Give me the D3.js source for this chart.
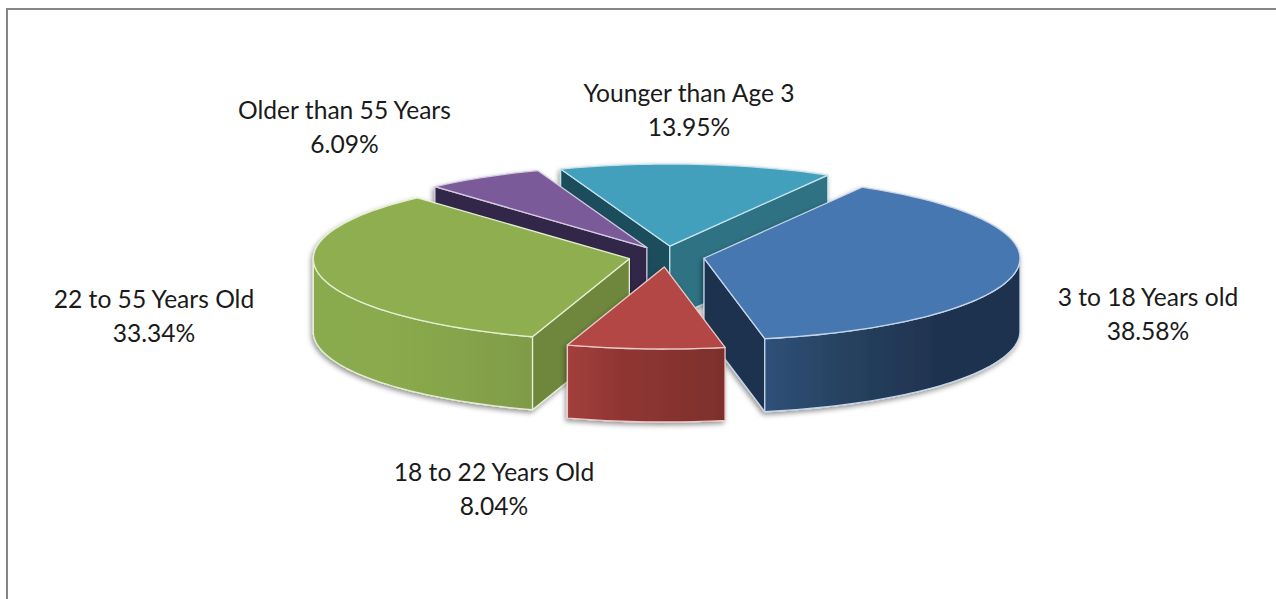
<!DOCTYPE html>
<html>
<head>
<meta charset="utf-8">
<script src="https://cdn.jsdelivr.net/npm/d3@7/dist/d3.min.js"></script>
<style>
html,body{margin:0;padding:0;background:#fff;overflow:hidden}
svg{display:block}
text{font-family:Lato,"Open Sans",sans-serif;font-size:24.6px;fill:#1a1a1a;text-anchor:middle}
</style>
</head>
<body>
<svg id="c" width="1276" height="599"></svg>
<script>
const categories = ["Younger than Age 3","3 to 18 Years old","18 to 22 Years Old","22 to 55 Years Old","Older than 55 Years"];
const values = [13.95,38.58,8.04,33.34,6.09];
const valueLabels = ["13.95%","38.58%","8.04%","33.34%","6.09%"];
const topColors = ["#43a0bc","#4777b0","#b34744","#8fae50","#7a5a98"];
const wallColors = ["#1b4d5b","#1f3350","#7f2f2c","#6e873d","#302548"];
const endWallColors = ["#2e7283","#1f3350","#7f2f2c","#6e873d","#302548"];
const rimStops = [
  ["#3a8ba3","#2e7283"],
  ["#2f5078","#26415f","#1f3350","#1f3350"],
  ["#a33f3c","#8f3633","#87332f","#7d2f2c"],
  ["#8aab4e","#8aaa4d","#86a44b","#7f9b48"],
  ["#3d3060","#302548"]
];
const strokeColors = ["#c4e2ec","#c6d6ea","#ecc9c6","#e4efcf","#d5cbe3"];
const labelAnchors = [[689,94],[1148,298],[494,473],[154,300],[344.5,111]];

const cx=666.5, cy=256.5, depth=73;
const sx=d3.scaleLinear([-1,1],[-316,316]);
const sy=d3.scaleLinear([-1,1],[-82,82]);
const ex=d3.scaleLinear([-1,1],[-38,38]);
const ey=d3.scaleLinear([-1,1],[-10.5,10.5]);
const rad=d=>d*Math.PI/180;

const svg=d3.select("#c");
const defs=svg.append("defs");
const f=defs.append("filter").attr("id","shadow").attr("x","-10%").attr("y","-10%").attr("width","120%").attr("height","130%");
f.append("feDropShadow").attr("dx",-1.5).attr("dy",2.5).attr("stdDeviation",2.6).attr("flood-color","#000").attr("flood-opacity",0.42);
const soft=defs.append("filter").attr("id","soft");
soft.append("feGaussianBlur").attr("stdDeviation",0.5);

svg.append("path").attr("d","M7,599V9H1276").attr("fill","none").attr("stroke","#868686").attr("stroke-width",2);

const pie=d3.pie().sort(null).value(d=>d).startAngle(rad(-20.2)).endAngle(rad(339.8));
const arcs=pie(values);
const line=d3.line().x(p=>p[0]).y(p=>p[1]);

rimStops.forEach((st,i)=>{
  const g=defs.append("linearGradient").attr("id","rim"+i);
  st.forEach((c,j)=>g.append("stop").attr("offset",j/(st.length-1)).attr("stop-color",c));
});

function sample(a0,a1,ax,ay){
  const n=Math.max(2,Math.ceil((a1-a0)/rad(1.5)));
  return d3.range(n+1).map(k=>{
    const t=a0+(a1-a0)*k/n;
    return [ax+sx(Math.sin(t)),ay-sy(Math.cos(t))];
  });
}

const drawOrder=[0,4,3,1,2];
const root=svg.append("g").attr("filter","url(#soft)");
drawOrder.forEach(i=>{
  const a=arcs[i], mid=(a.startAngle+a.endAngle)/2;
  const ax=cx+ex(Math.sin(mid)), ay=cy-ey(Math.cos(mid));
  const g=root.append("g").attr("filter","url(#shadow)");
  const vec=t=>[sx(Math.sin(t)),-sy(Math.cos(t))];
  const M=vec(mid);
  const facing=t=>{
    const E=vec(t);
    const cross=E[0]*M[1]-E[1]*M[0];
    return E[0]*cross<0;
  };
  const attrs=s=>s.attr("stroke",strokeColors[i]).attr("stroke-width",1.3).attr("stroke-linejoin","round");
  [[a.startAngle,wallColors[i]],[a.endAngle,endWallColors[i]]].forEach(([t,col])=>{
    if(!facing(t)) return;
    const E=vec(t);
    const pts=[[ax,ay],[ax+E[0],ay+E[1]],[ax+E[0],ay+E[1]+depth],[ax,ay+depth]];
    attrs(g.append("path").attr("d",line(pts)+"Z").attr("fill",col));
  });
  const lo=Math.max(a.startAngle,rad(90)), hi=Math.min(a.endAngle,rad(270));
  if(hi>lo){
    const upper=sample(lo,hi,ax,ay);
    const lower=upper.map(p=>[p[0],p[1]+depth]).reverse();
    attrs(g.append("path").attr("d",line(upper.concat(lower))+"Z").attr("fill",`url(#rim${i})`));
  }
  const top=[[ax,ay]].concat(sample(a.startAngle,a.endAngle,ax,ay));
  attrs(g.append("path").attr("d",line(top)+"Z").attr("fill",topColors[i]));
});

categories.forEach((c,i)=>{
  const t=svg.append("text").attr("x",labelAnchors[i][0]).attr("y",labelAnchors[i][1]+8);
  t.append("tspan").attr("x",labelAnchors[i][0]).text(c);
  t.append("tspan").attr("x",labelAnchors[i][0]).attr("dy",33.5).text(valueLabels[i]);
});
</script>
</body>
</html>
